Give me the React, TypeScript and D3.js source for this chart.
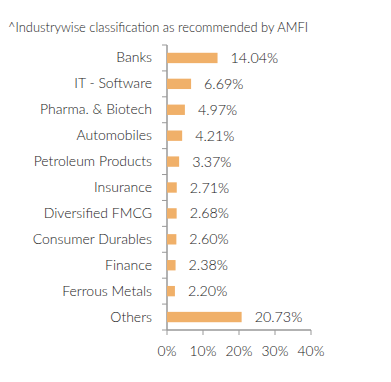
import React from "react";
import * as d3 from "d3";

const categories = ["Banks","IT - Software","Pharma. & Biotech","Automobiles","Petroleum Products","Insurance","Diversified FMCG","Consumer Durables","Finance","Ferrous Metals","Others"];
const values = [14.04,6.69,4.97,4.21,3.37,2.71,2.68,2.60,2.38,2.20,20.73];
const xTicks = [0,10,20,30,40];
const title = "^Industrywise classification as recommended by AMFI";

export default function App() {
  const W = 391, H = 382;
  const x = d3.scaleLinear().domain([0, 40]).range([167, 311]);
  const y = d3.scaleBand<string>().domain(categories).range([45, 330]).paddingInner(0.6).paddingOuter(0.3);
  const step = y.step();
  const font = "Lato, 'Open Sans', sans-serif";
  const axisColor = "#999";
  const textColor = "#222";
  return (
    <svg width={W} height={H} style={{ position: "absolute", left: 0, top: 0 }} fontFamily={font}>
      <text x={8} y={32} fontSize={12.9} fill={textColor} fontWeight={300}>{title}</text>
      <line x1={x(0)} x2={x(0)} y1={45} y2={330} stroke={axisColor} strokeWidth={1.5} />
      {categories.map((c, i) => (
        <line key={"t"+c} x1={x(0) - 5} x2={x(0)} y1={45 + i * step} y2={45 + i * step} stroke={axisColor} />
      ))}
      <line x1={x(0) - 5} x2={x(0)} y1={330} y2={330} stroke={axisColor} />
      <line x1={x(0)} x2={x(40)} y1={330} y2={330} stroke={axisColor} strokeWidth={1.5} />
      {xTicks.map(t => (
        <g key={"x"+t}>
          <line x1={x(t)} x2={x(t)} y1={330} y2={335} stroke={axisColor} />
          <text x={x(t)} y={356} textAnchor="middle" fontSize={13.8} fill={textColor} fontWeight={300}>{t}%</text>
        </g>
      ))}
      {categories.map((c, i) => {
        const cy = (y(c) as number) + y.bandwidth() / 2;
        return (
          <g key={c}>
            <text x={152} y={cy + 4.5} textAnchor="end" fontSize={14} fill={textColor} fontWeight={300}>{c}</text>
            <rect x={x(0)} y={y(c)} width={x(values[i]) - x(0)} height={y.bandwidth()} fill="#F0B069" />
            <text x={x(values[i]) + 13} y={cy + 5} fontSize={14.3} fill={textColor} fontWeight={300}>{values[i].toFixed(2)}%</text>
          </g>
        );
      })}
    </svg>
  );
}
